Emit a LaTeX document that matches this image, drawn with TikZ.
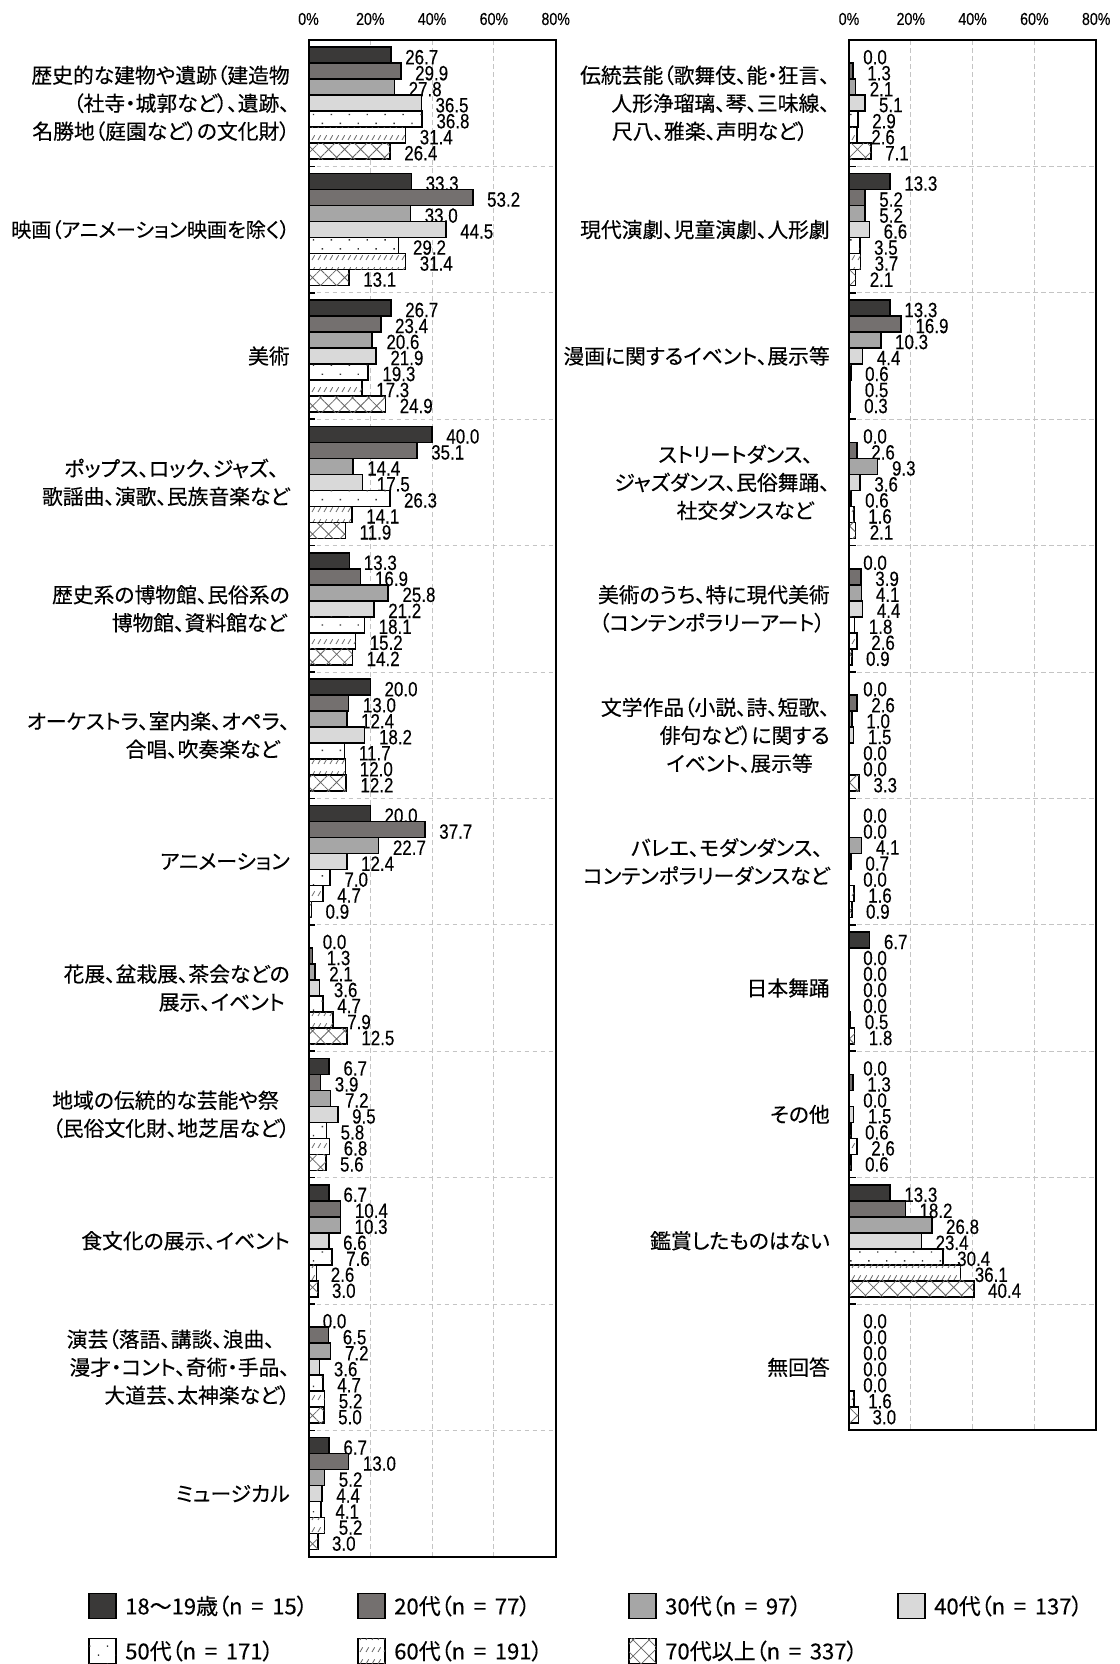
\documentclass[tikz,border=0pt]{standalone}
\usepackage{fontspec}
\usetikzlibrary{patterns.meta}
\newfontfamily\jpfont{Noto Sans CJK JP}[RawFeature=+palt, FakeBold=0.3]
\newfontfamily\numfont{Liberation Sans}[FakeStretch=0.82, FakeBold=0.25]
\definecolor{cA}{HTML}{3A3938}
\definecolor{cB}{HTML}{74706F}
\definecolor{cC}{HTML}{A6A6A6}
\definecolor{cD}{HTML}{D9D9D9}
\definecolor{gridc}{HTML}{C4C4C4}
\newdimen\pxu \pxu=0.75pt
\newcommand\rs[1]{\hspace*{#1\pxu}}
\newcommand\lsp{\hspace{0.4em}}
\newcommand\barscale{3.09}
\newcount\vn
\tikzdeclarepattern{
  name=shorthatch,
  type=uncolored,
  bounding box={(-1pt,-1pt) and (5.5pt,10pt)},
  tile size={(4.5pt,9pt)},
  code={\draw[line width=0.6pt] (0pt,0pt) -- (2pt,3.5pt);}
}
\tikzset{
  bar/.style={draw=black, line width=1.1pt},
  b1/.style={fill=cA},
  b2/.style={fill=cB},
  b3/.style={fill=cC},
  b4/.style={fill=cD},
  b5/.style={fill=white, postaction={pattern={Dots[distance=9.5pt, angle=45, radius=0.75pt]}, pattern color=black!80}},
  b6/.style={fill=white, postaction={pattern=shorthatch, pattern color=black!60}},
  b7/.style={fill=white, postaction={pattern={Hatch[angle=45, distance=8.5pt, line width=0.6pt]}, pattern color=black!60}},
  val/.style={anchor=west, inner sep=0pt, font=\numfont\fontsize{15.5pt}{16pt}\selectfont},
  tick/.style={inner sep=0pt, font=\numfont\fontsize{13pt}{14pt}\selectfont},
  cl/.style={anchor=east, align=right, inner sep=0pt, font=\jpfont\fontsize{15.6pt}{21pt}\selectfont},
  leg/.style={anchor=west, inner sep=0pt, font=\jpfont\fontsize{16.5pt}{20pt}\selectfont},
  gridl/.style={draw=gridc, line width=0.75pt, dash pattern=on 3.5pt off 2.5pt},
  frame/.style={draw=black, line width=1.5pt},
  axtick/.style={draw=black, line width=1.1pt},
}
\newcommand\onebar[4]{%
  \global\advance\vn by 1
  \draw[bar,#4] (#1,#2) rectangle ({#1+#3*\barscale},{#2+16});
  \node[val] (v\the\vn) at ({#1+#3*\barscale+14},{#2+10}) {#3};
}
\newcommand\cat[9]{%
  \pgfmathsetmacro\ct{40+#2*126.4+7.2}
  \onebar{#1}{\ct}{#3}{b1}
  \onebar{#1}{\ct+16}{#4}{b2}
  \onebar{#1}{\ct+32}{#5}{b3}
  \onebar{#1}{\ct+48}{#6}{b4}
  \onebar{#1}{\ct+64}{#7}{b5}
  \onebar{#1}{\ct+80}{#8}{b6}
  \onebar{#1}{\ct+96}{#9}{b7}
}
\newcommand\clab[4]{%
  \node[cl] (#1) at (#2,{40+(#3+0.5)*126.4}) {#4};
}
\newcommand\legitem[5]{%
  \draw[bar,#4] (#2,#3-12.5) rectangle (#2+27,#3+12.5);
  \node[leg] (#1) at (#2+36,#3) {#5};
}
\begin{document}
\begin{tikzpicture}[x=0.75pt, y=-0.75pt]
\useasboundingbox (0,0) rectangle (1120,1664);
\fill[white] (0,0) rectangle (1120,1664);

% ---------- grids ----------
\foreach \g in {20,40,60} {
  \draw[gridl] ({308.5+\g*\barscale},40) -- ({308.5+\g*\barscale},1556.8);
  \draw[gridl] ({849+\g*\barscale},40) -- ({849+\g*\barscale},1430.4);
}
\foreach \k in {1,...,11} {
  \draw[gridl] (308.5,{40+\k*126.4}) -- (555.7,{40+\k*126.4});
  \draw[axtick] (308.5,{40+\k*126.4}) -- (315,{40+\k*126.4});
}
\foreach \k in {1,...,10} {
  \draw[gridl] (849,{40+\k*126.4}) -- (1096.2,{40+\k*126.4});
  \draw[axtick] (849,{40+\k*126.4}) -- (855.5,{40+\k*126.4});
}

% ---------- tick labels ----------
\foreach \g [count=\i] in {0,20,40,60,80} {
  \node[tick] (tl\i) at ({308.5+\g*\barscale},19) {\g\%};
  \node[tick] (tr\i) at ({849+\g*\barscale},19) {\g\%};
}

% ---------- left chart bars ----------
\cat{308.5}{0}{26.7}{29.9}{27.8}{36.5}{36.8}{31.4}{26.4}
\cat{308.5}{1}{33.3}{53.2}{33.0}{44.5}{29.2}{31.4}{13.1}
\cat{308.5}{2}{26.7}{23.4}{20.6}{21.9}{19.3}{17.3}{24.9}
\cat{308.5}{3}{40.0}{35.1}{14.4}{17.5}{26.3}{14.1}{11.9}
\cat{308.5}{4}{13.3}{16.9}{25.8}{21.2}{18.1}{15.2}{14.2}
\cat{308.5}{5}{20.0}{13.0}{12.4}{18.2}{11.7}{12.0}{12.2}
\cat{308.5}{6}{20.0}{37.7}{22.7}{12.4}{7.0}{4.7}{0.9}
\cat{308.5}{7}{0.0}{1.3}{2.1}{3.6}{4.7}{7.9}{12.5}
\cat{308.5}{8}{6.7}{3.9}{7.2}{9.5}{5.8}{6.8}{5.6}
\cat{308.5}{9}{6.7}{10.4}{10.3}{6.6}{7.6}{2.6}{3.0}
\cat{308.5}{10}{0.0}{6.5}{7.2}{3.6}{4.7}{5.2}{5.0}
\cat{308.5}{11}{6.7}{13.0}{5.2}{4.4}{4.1}{5.2}{3.0}

% ---------- right chart bars ----------
\cat{849}{0}{0.0}{1.3}{2.1}{5.1}{2.9}{2.6}{7.1}
\cat{849}{1}{13.3}{5.2}{5.2}{6.6}{3.5}{3.7}{2.1}
\cat{849}{2}{13.3}{16.9}{10.3}{4.4}{0.6}{0.5}{0.3}
\cat{849}{3}{0.0}{2.6}{9.3}{3.6}{0.6}{1.6}{2.1}
\cat{849}{4}{0.0}{3.9}{4.1}{4.4}{1.8}{2.6}{0.9}
\cat{849}{5}{0.0}{2.6}{1.0}{1.5}{0.0}{0.0}{3.3}
\cat{849}{6}{0.0}{0.0}{4.1}{0.7}{0.0}{1.6}{0.9}
\cat{849}{7}{6.7}{0.0}{0.0}{0.0}{0.0}{0.5}{1.8}
\cat{849}{8}{0.0}{1.3}{0.0}{1.5}{0.6}{2.6}{0.6}
\cat{849}{9}{13.3}{18.2}{26.8}{23.4}{30.4}{36.1}{40.4}
\cat{849}{10}{0.0}{0.0}{0.0}{0.0}{0.0}{1.6}{3.0}

% ---------- frames ----------
\draw[frame] (308.5,40) rectangle (555.7,1556.8);
\draw[frame] (849,40) rectangle (1096.2,1430.4);

% ---------- category labels ----------
\clab{L1}{290}{0}{歴史的な建物や遺跡（建造物\\（社寺・城郭など）、遺跡、\rs{21}\\名勝地（庭園など）の文化財）}
\clab{L2}{290}{1}{\fontsize{15.1pt}{21pt}\selectfont 映画（アニメーション映画を除く）}
\clab{L3}{290}{2}{美術}
\clab{L4}{290}{3}{ポップス、ロック、ジャズ、\rs{11}\\歌謡曲、演歌、民族音楽など}
\clab{L5}{290}{4}{歴史系の博物館、民俗系の\\博物館、資料館など\rs{3}}
\clab{L6}{290}{5}{オーケストラ、室内楽、オペラ、\\合唱、吹奏楽など\rs{10}}
\clab{L7}{290}{6}{アニメーション}
\clab{L8}{290}{7}{花展、盆栽展、茶会などの\\展示、イベント\rs{5}}
\clab{L9}{290}{8}{地域の伝統的な芸能や祭\rs{11}\\（民俗文化財、地芝居など）}
\clab{L10}{290}{9}{食文化の展示、イベント}
\clab{L11}{290}{10}{演芸（落語、講談、浪曲、\rs{15}\\漫才・コント、奇術・手品、\rs{3}\\大道芸、太神楽など）}
\clab{L12}{290}{11}{ミュージカル}

\clab{R1}{830}{0}{伝統芸能（歌舞伎、能・狂言、\\人形浄瑠璃、琴、三味線、\rs{14}\\尺八、雅楽、声明など）\rs{22}}
\clab{R2}{830}{1}{現代演劇、児童演劇、人形劇}
\clab{R3}{830}{2}{漫画に関するイベント、展示等}
\clab{R4}{830}{3}{ストリートダンス、\rs{17}\\ジャズダンス、民俗舞踊、\\社交ダンスなど\rs{16}}
\clab{R5}{830}{4}{美術のうち、特に現代美術\\（コンテンポラリーアート）\rs{5}}
\clab{R6}{830}{5}{文学作品（小説、詩、短歌、\\俳句など）に関する\rs{10}\\イベント、展示等\rs{17}}
\clab{R7}{830}{6}{バレエ、モダンダンス、\rs{7}\\コンテンポラリーダンスなど}
\clab{R8}{830}{7}{日本舞踊}
\clab{R9}{830}{8}{その他}
\clab{R10}{830}{9}{鑑賞したものはない}
\clab{R11}{830}{10}{無回答}

% ---------- legend ----------
\legitem{g1}{89}{1606}{b1}{18～19歳（n\lsp=\lsp15）}
\legitem{g2}{358}{1606}{b2}{20代（n\lsp=\lsp77）}
\legitem{g3}{629}{1606}{b3}{30代（n\lsp=\lsp97）}
\legitem{g4}{898}{1606}{b4}{40代（n\lsp=\lsp137）}
\legitem{g5}{89}{1651}{b5}{50代（n\lsp=\lsp171）}
\legitem{g6}{358}{1651}{b6}{60代（n\lsp=\lsp191）}
\legitem{g7}{629}{1651}{b7}{70代以上（n\lsp=\lsp337）}
\end{tikzpicture}
\end{document}
